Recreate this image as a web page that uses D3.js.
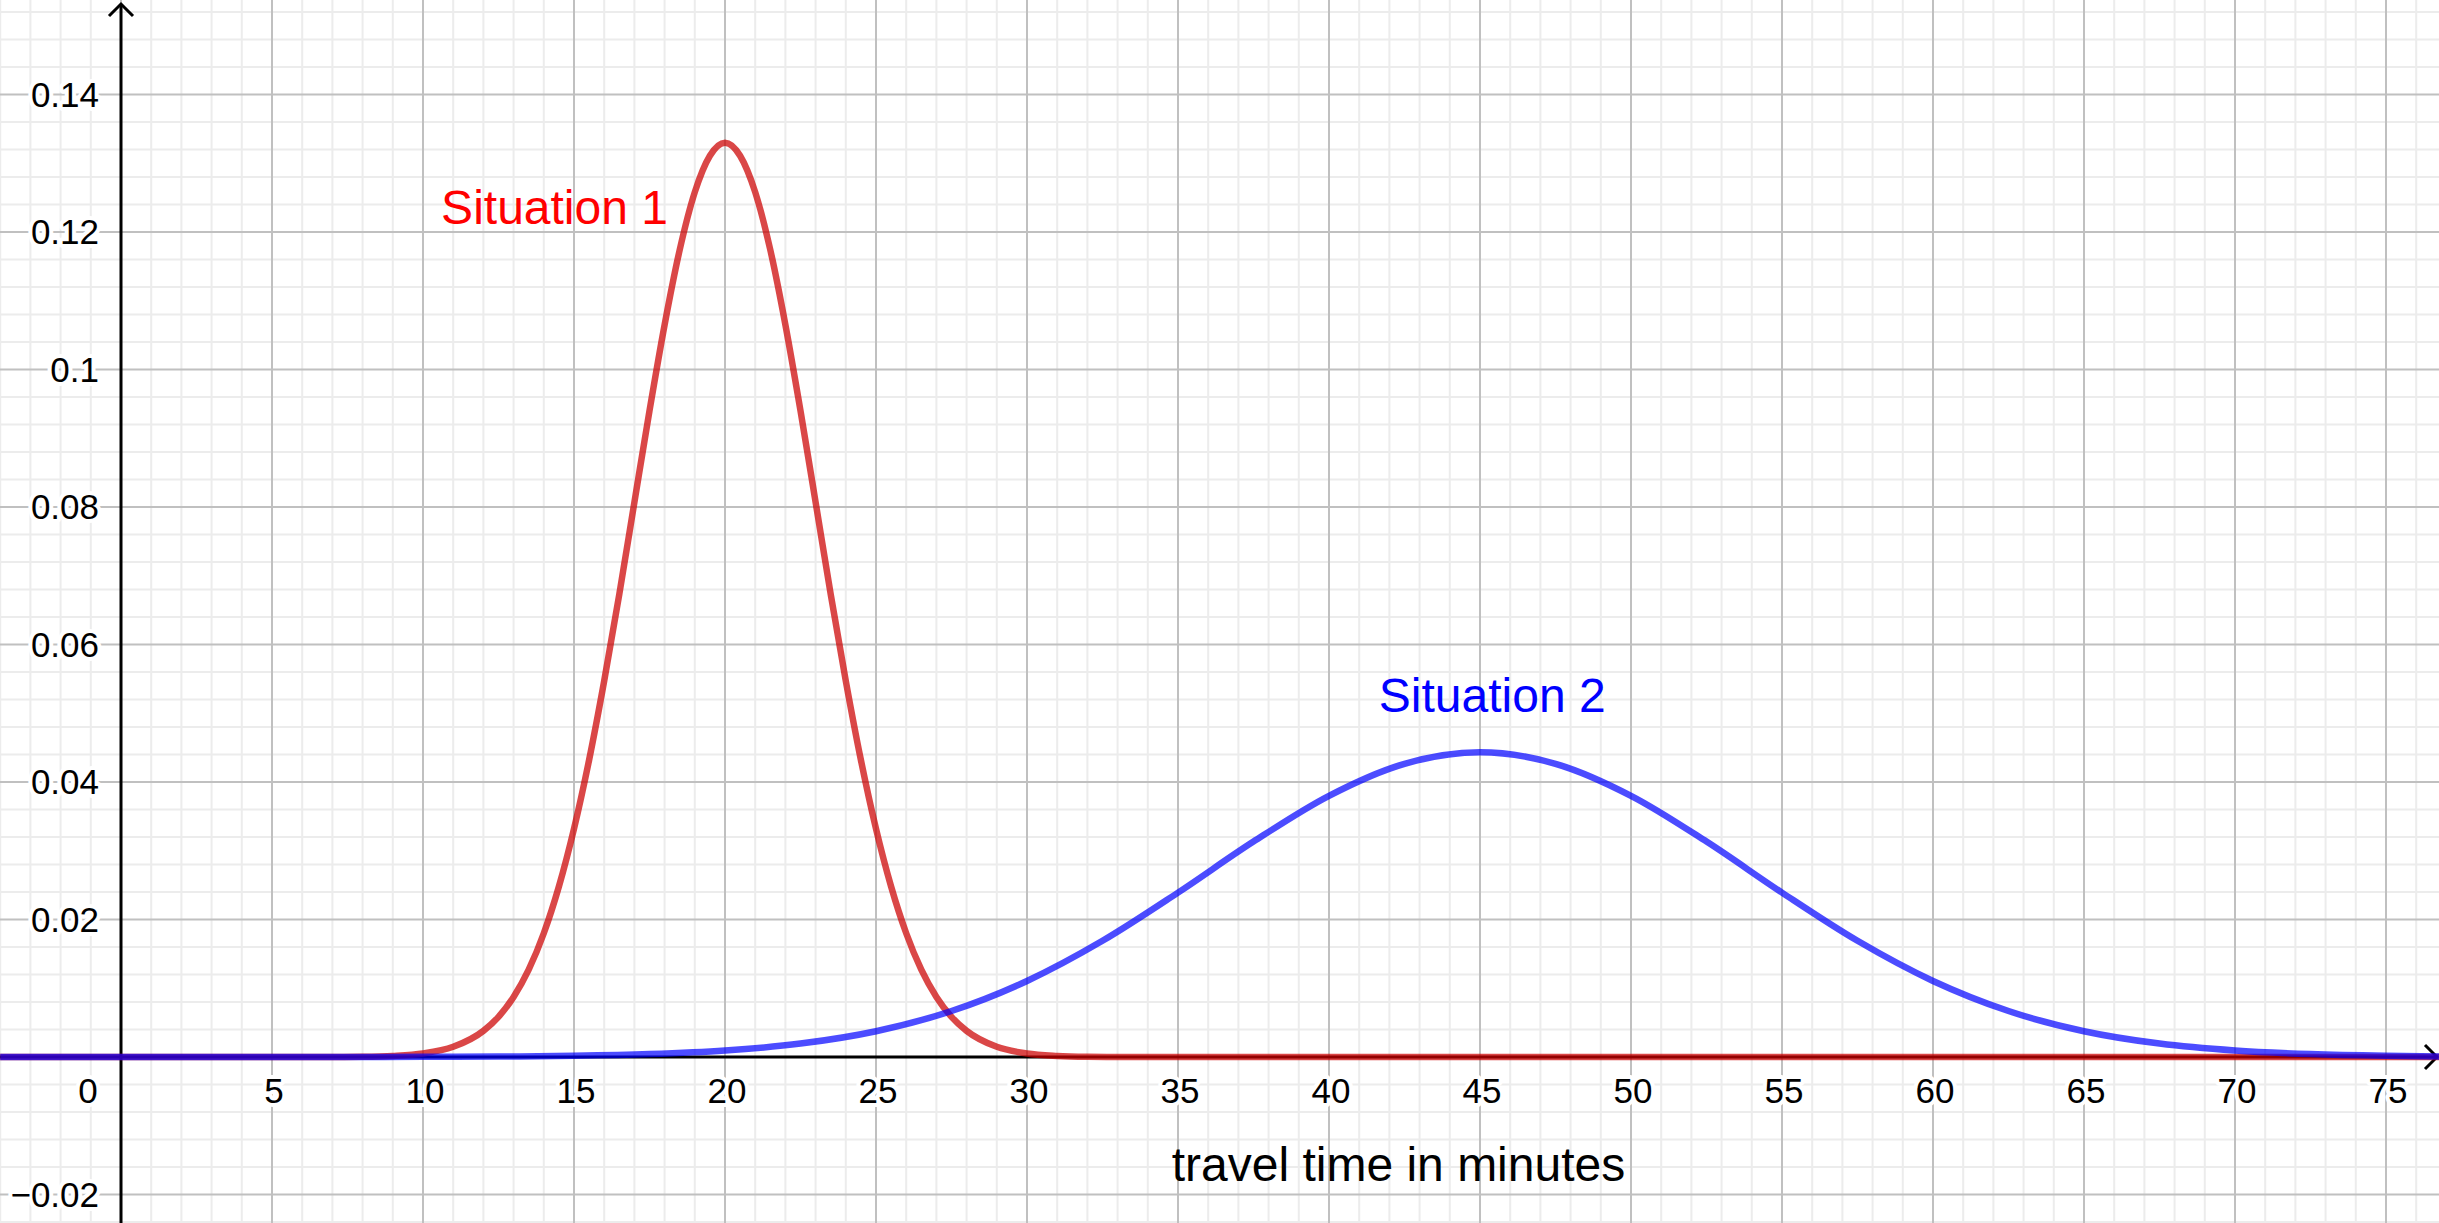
<!DOCTYPE html>
<html>
<head>
<meta charset="utf-8">
<script src="https://cdn.jsdelivr.net/npm/d3@7"></script>
<style>
  html, body { margin: 0; padding: 0; background: #fff; overflow: hidden; }
  svg { display: block; }
  text { font-family: "Liberation Sans", Arial, sans-serif; }
</style>
</head>
<body>
<script>
// ---- data ----
const xTickValues = [0, 5, 10, 15, 20, 25, 30, 35, 40, 45, 50, 55, 60, 65, 70, 75];
const yTickValues = [-0.02, 0.02, 0.04, 0.06, 0.08, 0.1, 0.12, 0.14];
const yTickLabels = ["\u22120.02", "0.02", "0.04", "0.06", "0.08", "0.1", "0.12", "0.14"];

// Situation 1 (red): travel time (min) and density
const situation1X = [-4, 0, 5, 7, 8, 9, 10, 11, 12, 12.5, 13, 13.5, 14, 14.5, 15, 15.5, 16, 16.5, 17, 17.5, 18, 18.5, 19, 19.5, 20,
  20.5, 21, 21.5, 22, 22.5, 23, 23.5, 24, 24.5, 25, 25.5, 26, 26.5, 27, 27.5, 28, 29, 30, 31, 32, 33, 40, 60, 77];
const situation1Y = [0, 0, 0, 0.00001, 0.00004, 0.00016, 0.00051, 0.00148, 0.00380, 0.00584, 0.00874, 0.0127, 0.0180, 0.0248, 0.0332, 0.0432,
  0.0547, 0.0673, 0.0807, 0.0940, 0.1065, 0.1174, 0.1258, 0.1311, 0.1330,
  0.1311, 0.1258, 0.1174, 0.1065, 0.0940, 0.0807, 0.0673, 0.0547, 0.0432, 0.0332, 0.0248, 0.0180, 0.0127, 0.00874, 0.00584, 0.00380,
  0.00148, 0.00051, 0.00016, 0.00004, 0.00001, 0, 0, 0];

// Situation 2 (blue)
const situation2X = [-4, 5, 7.5, 10, 12.5, 15, 17.5, 20, 22.5, 25, 27.5, 30, 32.5, 35, 37.5, 40, 42.5, 45,
  47.5, 50, 52.5, 55, 57.5, 60, 62.5, 65, 67.5, 70, 72.5, 75, 77.5];
const situation2Y = [0, 0.000002, 0.000008, 0.000023, 0.000065, 0.00017, 0.00042, 0.00094, 0.00195, 0.00375, 0.00669, 0.01106, 0.01690,
  0.02391, 0.03133, 0.03799, 0.04265, 0.04433,
  0.04265, 0.03799, 0.03133, 0.02391, 0.01690, 0.01106, 0.00669, 0.00375, 0.00195, 0.00094, 0.00042, 0.00017, 0.000065];

const labels = [
  { text: "Situation 1", x: 10.6, y: 0.1211, color: "#ff0000" },
  { text: "Situation 2", x: 41.65, y: 0.0502, color: "#0000ff" }
];
const xAxisTitle = "travel time in minutes";

// ---- layout ----
const W = 2439, H = 1223;
const svg = d3.select("body").append("svg").attr("width", W).attr("height", H);

const x = d3.scaleLinear().domain([0, 75]).range([121, 2386]);
const y = d3.scaleLinear().domain([0, 0.14]).range([1057, 94.5]);

const xMin = x.invert(0), xMax = x.invert(W);
const yMin = y.invert(H), yMax = y.invert(0);

// minor grid
const gGrid = svg.append("g");
const minorX = d3.range(Math.ceil(xMin), Math.floor(xMax) + 1, 1).filter(v => v % 5 !== 0);
const minorY = d3.range(Math.ceil(yMin / 0.004), Math.floor(yMax / 0.004) + 1).filter(k => k % 5 !== 0).map(k => k * 0.004);
gGrid.selectAll("line.mx").data(minorX).join("line")
  .attr("x1", d => x(d)).attr("x2", d => x(d)).attr("y1", 0).attr("y2", H)
  .attr("stroke", "#ececec").attr("stroke-width", 2);
gGrid.selectAll("line.my").data(minorY).join("line")
  .attr("y1", d => y(d)).attr("y2", d => y(d)).attr("x1", 0).attr("x2", W)
  .attr("stroke", "#ececec").attr("stroke-width", 2);
// major grid
const majorX = d3.range(Math.ceil(xMin / 5), Math.floor(xMax / 5) + 1).map(k => k * 5);
const majorY = d3.range(Math.ceil(yMin / 0.02), Math.floor(yMax / 0.02) + 1).map(k => k * 0.02);
gGrid.selectAll("line.Mx").data(majorX).join("line")
  .attr("x1", d => x(d)).attr("x2", d => x(d)).attr("y1", 0).attr("y2", H)
  .attr("stroke", "#c0c0c0").attr("stroke-width", 2);
gGrid.selectAll("line.My").data(majorY).join("line")
  .attr("y1", d => y(d)).attr("y2", d => y(d)).attr("x1", 0).attr("x2", W)
  .attr("stroke", "#c0c0c0").attr("stroke-width", 2);

// axes
const x0 = x(0), y0 = y(0);
svg.append("line").attr("x1", x0).attr("x2", x0).attr("y1", 4).attr("y2", H)
  .attr("stroke", "#000").attr("stroke-width", 3);
svg.append("line").attr("x1", 0).attr("x2", W - 1).attr("y1", y0).attr("y2", y0)
  .attr("stroke", "#000").attr("stroke-width", 3);
svg.append("path").attr("d", `M${x0 - 12},${16} L${x0},${4} L${x0 + 12},${16}`)
  .attr("fill", "none").attr("stroke", "#000").attr("stroke-width", 3);
svg.append("path").attr("d", `M${W - 14},${y0 - 12} L${W - 2},${y0} L${W - 14},${y0 + 12}`)
  .attr("fill", "none").attr("stroke", "#000").attr("stroke-width", 3);

// tick labels with white halo
const halo = sel => sel.attr("stroke", "#fff").attr("stroke-width", 8).attr("paint-order", "stroke").attr("stroke-linejoin", "round");
svg.append("g").selectAll("text").data(xTickValues).join("text")
  .attr("x", d => d === 0 ? x0 - 33 : x(d) + 2)
  .attr("y", y0 + 46)
  .attr("text-anchor", "middle")
  .attr("font-size", 35).attr("fill", "#000")
  .call(halo)
  .text(d => d);
svg.append("g").selectAll("text").data(yTickValues).join("text")
  .attr("x", x0 - 22)
  .attr("y", d => y(d) + 12)
  .attr("text-anchor", "end")
  .attr("font-size", 35).attr("fill", "#000")
  .call(halo)
  .text((d, i) => yTickLabels[i]);

// curves
const line = d3.line().x(d => x(d[0])).y(d => y(d[1])).curve(d3.curveMonotoneX);
svg.append("clipPath").attr("id", "c").append("rect").attr("x", 0).attr("y", 0).attr("width", W).attr("height", H);
const s1 = situation1X.map((v, i) => [v, situation1Y[i]]);
const s2 = situation2X.map((v, i) => [v, situation2Y[i]]);
svg.append("path").attr("d", line(s1)).attr("clip-path", "url(#c)")
  .attr("fill", "none").attr("stroke", "rgb(204,0,0)").attr("stroke-opacity", 0.72)
  .attr("stroke-width", 6.5).attr("stroke-linejoin", "round");
svg.append("path").attr("d", line(s2)).attr("clip-path", "url(#c)")
  .attr("fill", "none").attr("stroke", "rgb(0,0,255)").attr("stroke-opacity", 0.7)
  .attr("stroke-width", 6.5).attr("stroke-linejoin", "round");

// labels
svg.append("g").selectAll("text").data(labels).join("text")
  .attr("x", d => x(d.x)).attr("y", d => y(d.y))
  .attr("font-size", 48).attr("fill", d => d.color)
  .text(d => d.text);

svg.append("text")
  .attr("x", x(42.3)).attr("y", 1181)
  .attr("text-anchor", "middle")
  .attr("font-size", 48).attr("fill", "#000")
  .text(xAxisTitle);
</script>
</body>
</html>
